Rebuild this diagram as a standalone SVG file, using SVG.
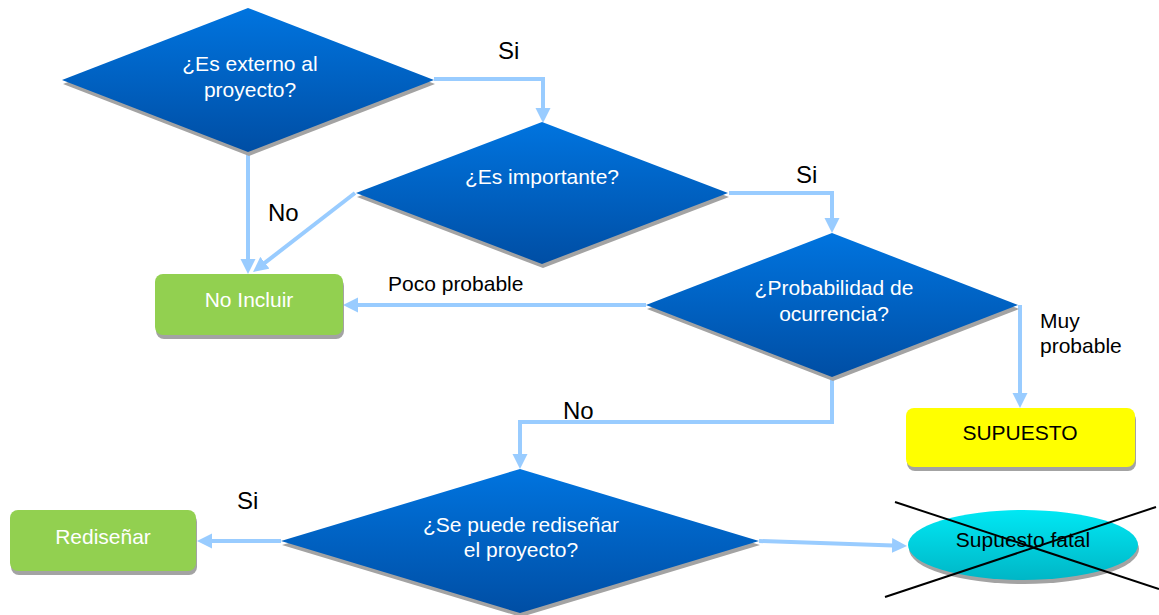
<svg xmlns="http://www.w3.org/2000/svg" width="1159" height="615" viewBox="0 0 1159 615">
  <style>
    .diamond { fill: url(#blueGrad); }
    .shadow { fill: #a3a3a3; }
    .box-green { fill: #92d050; }
    .box-yellow { fill: #ffff00; }
    .txt { font-family: "Liberation Sans", Arial, sans-serif; font-size: 21px; }
    .white { fill: #ffffff; }
    .black { fill: #000000; }
    .lbl { font-family: "Liberation Sans", Arial, sans-serif; font-size: 24px; fill: #000000; }
    .conn { fill: none; stroke: #99ccff; stroke-width: 4; marker-end: url(#arrow); }
    .cross { stroke: #000000; stroke-width: 2; }
  </style>
  <defs>
    <linearGradient id="blueGrad" x1="0" y1="0" x2="0" y2="1">
      <stop offset="0" stop-color="#0074df"/>
      <stop offset="1" stop-color="#004ea4"/>
    </linearGradient>
    <linearGradient id="cyanGrad" x1="0" y1="0" x2="0" y2="1">
      <stop offset="0" stop-color="#00e8f4"/>
      <stop offset="1" stop-color="#00b6c6"/>
    </linearGradient>
    <marker id="arrow" viewBox="0 -8 16 16" markerWidth="16" markerHeight="16" refX="1" refY="0" orient="auto" markerUnits="userSpaceOnUse">
      <path d="M0,-7.5 L15,0 L0,7.5 z" fill="#99ccff"/>
    </marker>
  </defs>

  <!-- connectors -->
  <g id="connectors">
    <path class="conn" d="M434,79 H543 V109"/>
    <path class="conn" d="M248,152 V260"/>
    <path class="conn" d="M355,193 L264.1,263.4"/>
    <path class="conn" d="M729,193 H832 V219"/>
    <path class="conn" d="M646,305 H357"/>
    <path class="conn" d="M832,377 V422 H520 V455"/>
    <path class="conn" d="M1020,305 V394"/>
    <path class="conn" d="M281,541 H211"/>
    <path class="conn" d="M759,541 L893,545.5"/>
  </g>

  <!-- connector labels -->
  <g id="labels">
    <text class="lbl" x="498" y="59">Si</text>
    <text class="lbl" x="268" y="221">No</text>
    <text class="lbl" x="796" y="183">Si</text>
    <text class="txt black" x="388" y="291">Poco probable</text>
    <text class="txt black" x="1040" y="328">Muy</text>
    <text class="txt black" x="1040" y="353">probable</text>
    <text class="lbl" x="563" y="419">No</text>
    <text class="lbl" x="237" y="509">Si</text>
  </g>

  <g id="q-externo">
    <polygon class="shadow" points="63,84 249,12 435,84 249,156"/>
    <polygon class="diamond" points="62,80 248,8 434,80 248,152"/>
    <text class="txt white" text-anchor="middle" x="250" y="71">¿Es externo al</text>
    <text class="txt white" text-anchor="middle" x="250" y="97">proyecto?</text>
  </g>

  <g id="q-importante">
    <polygon class="shadow" points="357,197 543,126 729,197 543,268"/>
    <polygon class="diamond" points="356,193 542,122 728,193 542,264"/>
    <text class="txt white" text-anchor="middle" x="542" y="184">¿Es importante?</text>
  </g>

  <g id="q-probabilidad">
    <polygon class="shadow" points="647,309 833,237 1019,309 833,381"/>
    <polygon class="diamond" points="646,305 832,233 1018,305 832,377"/>
    <text class="txt white" text-anchor="middle" x="834" y="295">¿Probabilidad de</text>
    <text class="txt white" text-anchor="middle" x="834" y="321">ocurrencia?</text>
  </g>

  <g id="q-redisenar">
    <polygon class="shadow" points="282,545 521,473 760,545 521,617"/>
    <polygon class="diamond" points="281,541 520,469 759,541 520,613"/>
    <text class="txt white" text-anchor="middle" x="521" y="532">¿Se puede rediseñar</text>
    <text class="txt white" text-anchor="middle" x="521" y="557">el proyecto?</text>
  </g>

  <g id="no-incluir">
    <rect class="shadow" x="156" y="278" width="188" height="61" rx="8"/>
    <rect class="box-green" x="155" y="274" width="188" height="61" rx="8"/>
    <text class="txt white" text-anchor="middle" x="249" y="307">No Incluir</text>
  </g>

  <g id="supuesto">
    <rect class="shadow" x="907" y="412" width="229" height="59" rx="8"/>
    <rect class="box-yellow" x="906" y="408" width="229" height="59" rx="8"/>
    <text class="txt black" text-anchor="middle" x="1020" y="440">SUPUESTO</text>
  </g>

  <g id="redisenar">
    <rect class="shadow" x="11" y="514" width="186" height="61" rx="8"/>
    <rect class="box-green" x="10" y="510" width="186" height="61" rx="8"/>
    <text class="txt white" text-anchor="middle" x="103" y="544">Rediseñar</text>
  </g>

  <g id="supuesto-fatal">
    <ellipse class="shadow" cx="1024" cy="549" rx="115" ry="35"/>
    <ellipse cx="1023" cy="545" rx="115" ry="35" fill="url(#cyanGrad)"/>
    <text class="txt black" text-anchor="middle" x="1023" y="547">Supuesto fatal</text>
    <line class="cross" x1="895" y1="502" x2="1159" y2="589"/>
    <line class="cross" x1="885" y1="597" x2="1156" y2="507"/>
  </g>
</svg>
